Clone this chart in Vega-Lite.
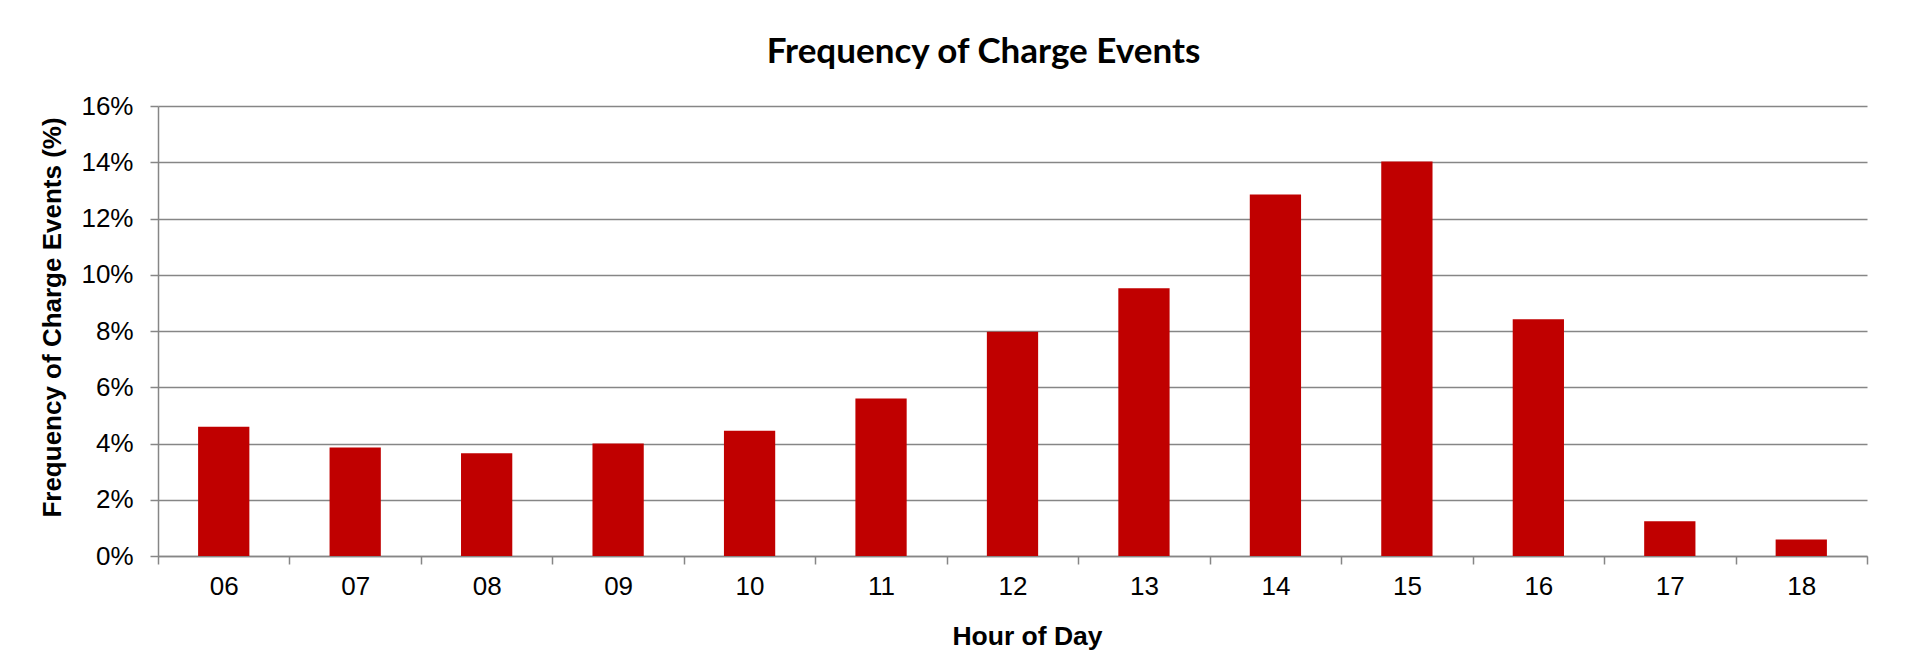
{
  "$schema": "https://vega.github.io/schema/vega-lite/v6.json",
  "width": 1709,
  "height": 450,
  "autosize": "none",
  "padding": {"left": 158, "top": 106, "right": 65, "bottom": 112},
  "background": "white",
  "title": {
    "text": "Frequency of Charge Events",
    "font": "Lato",
    "fontSize": 35,
    "fontWeight": "bold",
    "color": "black",
    "anchor": "middle",
    "frame": "group",
    "dx": -29,
    "offset": 23
  },
  "data": {
    "values": [
      {"hour": "06", "freq": 0.0460},
      {"hour": "07", "freq": 0.0386},
      {"hour": "08", "freq": 0.0365},
      {"hour": "09", "freq": 0.0400},
      {"hour": "10", "freq": 0.0445},
      {"hour": "11", "freq": 0.0560},
      {"hour": "12", "freq": 0.0797},
      {"hour": "13", "freq": 0.0952},
      {"hour": "14", "freq": 0.1285},
      {"hour": "15", "freq": 0.1403},
      {"hour": "16", "freq": 0.0842},
      {"hour": "17", "freq": 0.0124},
      {"hour": "18", "freq": 0.0059}
    ]
  },
  "mark": {"type": "bar", "color": "#C00000", "width": {"band": 0.39}},
  "encoding": {
    "x": {
      "field": "hour",
      "type": "ordinal",
      "scale": {"paddingInner": 0, "paddingOuter": 0},
      "axis": {
        "title": "Hour of Day",
        "labelAngle": 0,
        "tickBand": "extent",
        "grid": false,
        "domainColor": "#868686",
        "domainWidth": 1.5,
        "tickColor": "#868686",
        "tickWidth": 1.5,
        "tickSize": 8,
        "labelFont": "Liberation Sans",
        "labelFontSize": 26,
        "labelColor": "black",
        "labelPadding": 9,
        "titleFont": "Liberation Sans",
        "titleFontSize": 26.5,
        "titleFontWeight": "bold",
        "titleColor": "black",
        "titlePadding": 24,
        "titleX": 869
      }
    },
    "y": {
      "field": "freq",
      "type": "quantitative",
      "scale": {"domain": [0, 0.16], "nice": false},
      "axis": {
        "title": "Frequency of Charge Events (%)",
        "values": [0, 0.02, 0.04, 0.06, 0.08, 0.1, 0.12, 0.14, 0.16],
        "format": ".0%",
        "grid": true,
        "gridColor": "#868686",
        "gridWidth": 1.5,
        "domainColor": "#868686",
        "domainWidth": 1.5,
        "tickColor": "#868686",
        "tickWidth": 1.5,
        "tickSize": 8,
        "labelFont": "Liberation Sans",
        "labelFontSize": 26,
        "labelColor": "black",
        "labelPadding": 17,
        "titleFont": "Liberation Sans",
        "titleFontSize": 26,
        "titleFontWeight": "bold",
        "titleColor": "black",
        "titlePadding": 15,
        "titleY": 211
      }
    }
  },
  "config": {"view": {"stroke": null}}
}
